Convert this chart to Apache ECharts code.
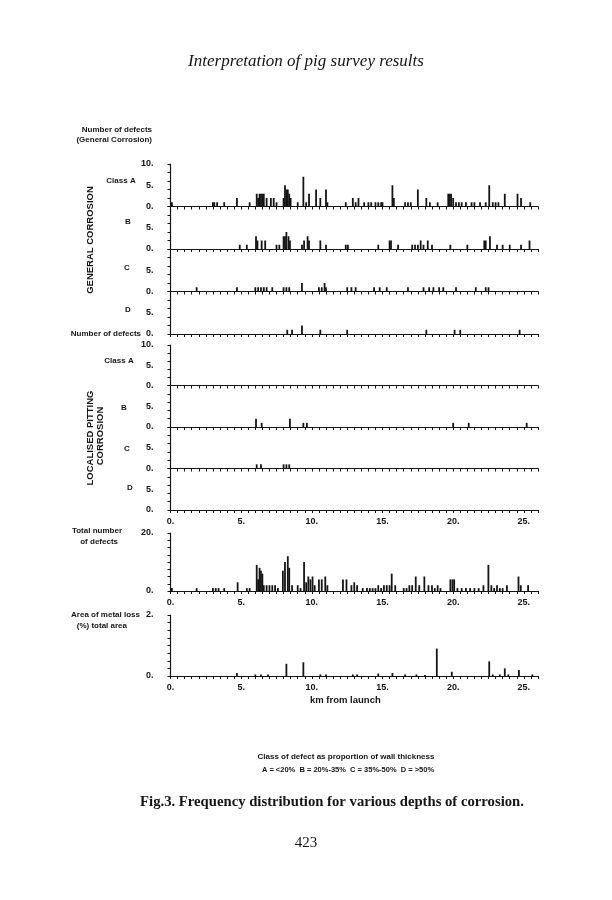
<!DOCTYPE html>
<html><head><meta charset="utf-8">
<script src="https://cdn.jsdelivr.net/npm/echarts@6/dist/echarts.min.js"></script>
<style>html,body{margin:0;padding:0;background:#fff}#c{width:612px;height:900px}</style>
</head><body><div id="c"></div><script>
// ---- data (km from launch, value) ----
const kmTickLabels = [0, 5, 10, 15, 20, 25];
const genA = [[0.1,1],[3.0,1],[3.1,1],[3.3,1],[3.8,1],[4.7,2],[5.6,1],[6.1,3],[6.2,2],[6.3,3],[6.4,3],[6.5,3],[6.6,3],[6.8,2],[7.1,2],[7.3,2],[7.5,1],[8.0,2],[8.1,5],[8.2,4],[8.3,4],[8.4,3],[8.5,2],[9.0,1],[9.4,7],[9.6,1],[9.8,3],[10.3,4],[10.6,2],[11.0,4],[11.1,1],[12.4,1],[12.9,2],[13.1,1],[13.3,2],[13.7,1],[14.0,1],[14.2,1],[14.5,1],[14.7,1],[14.9,1],[15.0,1],[15.7,5],[15.8,2],[16.6,1],[16.8,1],[17.0,1],[17.5,4],[18.1,2],[18.35,1],[18.9,1],[19.65,3],[19.75,3],[19.85,3],[20.0,2],[20.2,1],[20.4,1],[20.6,1],[20.9,1],[21.3,1],[21.5,1],[21.9,1],[22.3,1],[22.55,5],[22.8,1],[23.0,1],[23.2,1],[23.65,3],[24.55,3],[24.8,2],[25.45,1]];
const genB = [[4.9,1],[5.4,1],[6.05,3],[6.15,2],[6.45,2],[6.7,2],[7.5,1],[7.7,1],[8.0,3],[8.1,3],[8.2,4],[8.35,3],[8.45,2],[9.3,1],[9.45,2],[9.7,3],[9.8,2],[10.6,2],[11.0,1],[12.4,1],[12.55,1],[14.7,1],[15.5,2],[15.6,2],[16.1,1],[17.1,1],[17.3,1],[17.5,1],[17.7,2],[17.9,1],[18.2,2],[18.5,1],[19.8,1],[21.0,1],[22.2,2],[22.3,2],[22.6,3],[23.1,1],[23.5,1],[24.0,1],[24.8,1],[25.4,2]];
const genC = [[1.85,1],[4.7,1],[6.0,1],[6.2,1],[6.4,1],[6.6,1],[6.8,1],[7.2,1],[8.0,1],[8.2,1],[8.4,1],[9.3,2],[10.5,1],[10.7,1],[10.9,2],[11.0,1],[12.5,1],[12.8,1],[13.1,1],[14.4,1],[14.8,1],[15.3,1],[16.8,1],[17.9,1],[18.3,1],[18.6,1],[19.0,1],[19.3,1],[20.2,1],[21.6,1],[22.3,1],[22.5,1]];
const genD = [[8.26,1],[8.6,1],[9.3,2],[10.6,1],[12.5,1],[18.1,1],[20.1,1],[20.5,1],[24.7,1]];
const pitA = [];
const pitB = [[6.05,2],[6.45,1],[8.45,2],[9.4,1],[9.65,1],[20.0,1],[21.1,1],[25.2,1]];
const pitC = [[6.1,1],[6.4,1],[8.0,1],[8.2,1],[8.4,1]];
const pitD = [];
const totalDefects = [[0.1,1],[1.85,1],[3.0,1],[3.2,1],[3.4,1],[3.8,1],[4.75,3],[5.4,1],[5.6,1],[6.1,9],[6.2,4],[6.3,8],[6.4,7],[6.5,6],[6.6,2],[6.8,2],[7.0,2],[7.2,2],[7.4,2],[7.6,1],[7.95,7],[8.1,10],[8.3,12],[8.4,8],[8.6,2],[9.0,2],[9.2,1],[9.45,10],[9.6,3],[9.75,5],[9.9,4],[10.05,5],[10.2,2],[10.5,4],[10.7,4],[10.95,5],[11.1,2],[12.2,4],[12.45,4],[12.8,2],[13.0,3],[13.2,2],[13.6,1],[13.9,1],[14.1,1],[14.3,1],[14.5,1],[14.7,2],[14.9,1],[15.1,2],[15.3,2],[15.5,2],[15.65,6],[15.9,2],[16.5,1],[16.7,1],[16.9,2],[17.1,2],[17.35,5],[17.6,2],[17.96,5],[18.25,2],[18.5,2],[18.7,1],[18.9,2],[19.1,1],[19.8,4],[19.95,4],[20.07,4],[20.3,1],[20.6,1],[20.9,1],[21.2,1],[21.5,1],[21.8,1],[22.14,2],[22.49,9],[22.7,2],[22.9,1],[23.1,2],[23.3,1],[23.5,1],[23.8,2],[24.62,5],[24.78,2],[25.3,2]];
const metalLossPct = [[4.7,0.1],[6.0,0.05],[6.4,0.05],[6.9,0.05],[8.2,0.4],[9.4,0.45],[10.6,0.05],[11.0,0.05],[12.9,0.05],[13.2,0.05],[14.7,0.08],[15.7,0.1],[16.6,0.05],[17.4,0.05],[18.0,0.03],[18.84,0.9],[19.9,0.14],[22.55,0.48],[22.8,0.05],[23.3,0.05],[23.65,0.25],[23.9,0.05],[24.65,0.2],[25.6,0.05]];

// ---- layout ----
const LEFT = 170.5, RIGHT = 538;
const panels = [
  {data: genA, top: 164,   bot: 206.5, max: 10, tick: 2,    lab: 5,  showTop: true},
  {data: genB, top: 206.5, bot: 249,   max: 10, tick: 2,    lab: 5},
  {data: genC, top: 249,   bot: 291.5, max: 10, tick: 2,    lab: 5},
  {data: genD, top: 291.5, bot: 334,   max: 10, tick: 2,    lab: 5},
  {data: pitA, top: 345,   bot: 385.5, max: 10, tick: 2,    lab: 5,  showTop: true},
  {data: pitB, top: 385.5, bot: 427,   max: 10, tick: 2,    lab: 5},
  {data: pitC, top: 427,   bot: 468.5, max: 10, tick: 2,    lab: 5},
  {data: pitD, top: 468.5, bot: 510,   max: 10, tick: 2,    lab: 5,  xlab: true},
  {data: totalDefects, top: 533, bot: 591, max: 20, tick: 2.5, lab: 20, showTop: true, xlab: true},
  {data: metalLossPct, top: 615, bot: 676, max: 2, tick: 0.25, lab: 2, showTop: true, xlab: true}
];
const INK = '#151515';
const LBL = 'bold 8px "Liberation Sans", sans-serif';
const grid = [], xAxis = [], yAxis = [], series = [];
panels.forEach((p, i) => {
  grid.push({left: LEFT, width: RIGHT - LEFT, top: p.top, height: p.bot - p.top});
  xAxis.push({type: 'value', gridIndex: i, min: 0, max: 26, interval: 0.5, position: 'bottom',
    axisLine: {lineStyle: {color: INK, width: 1.2}},
    axisTick: {show: true, length: 3, lineStyle: {color: INK, width: 1}},
    splitLine: {show: false},
    axisLabel: {show: !!p.xlab, margin: 7, color: INK, fontFamily: 'Liberation Sans', fontWeight: 'bold', fontSize: 9,
      formatter: v => (kmTickLabels.indexOf(v) >= 0 ? v + '.' : '')}});
  yAxis.push({type: 'value', gridIndex: i, min: 0, max: p.max, interval: p.tick, position: 'left',
    axisLine: {show: true, lineStyle: {color: INK, width: 1.2}},
    axisTick: {show: true, length: 3, lineStyle: {color: INK}},
    splitLine: {show: false}, axisLabel: {show: false}});
  yAxis.push({type: 'value', gridIndex: i, min: 0, max: p.max, interval: p.lab, position: 'left', offset: 0,
    axisLine: {show: false}, axisTick: {show: false}, splitLine: {show: false},
    axisLabel: {margin: 17, color: INK, fontFamily: 'Liberation Sans', fontWeight: 'bold', fontSize: 9,
      formatter: v => (v === 0 || v === 5 || (p.showTop && v === p.max)) ? v + '.' : ''}});
  series.push({type: 'bar', xAxisIndex: i, yAxisIndex: 2 * i, data: p.data, barWidth: 1.8,
    itemStyle: {color: INK}, silent: true, animation: false});
});

const txt = (text, x, y, font, align, extra) => Object.assign({type: 'text', x: x, y: y, silent: true,
  style: {text: text, font: font, fill: INK, textAlign: align || 'left', textVerticalAlign: 'middle'}}, extra || {});
const VFONT = 'bold 9.5px "Liberation Sans", sans-serif';
const graphic = [
  txt('Interpretation of pig survey results', 306, 62, 'italic 17px "Liberation Serif", serif', 'center'),
  txt('Number of defects', 152, 130, LBL, 'right'),
  txt('(General Corrosion)', 152, 140, LBL, 'right'),
  txt('Class A', 121, 181, LBL, 'center'),
  txt('B', 128, 222, LBL, 'center'),
  txt('C', 127, 268, LBL, 'center'),
  txt('D', 128, 310, LBL, 'center'),
  txt('Number of defects', 141, 334, LBL, 'right'),
  txt('Class A', 119, 361, LBL, 'center'),
  txt('B', 124, 408, LBL, 'center'),
  txt('C', 127, 449, LBL, 'center'),
  txt('D', 130, 488, LBL, 'center'),
  txt('Total number', 122, 531, LBL, 'right'),
  txt('of defects', 118, 542, LBL, 'right'),
  txt('Area of metal loss', 140, 615, LBL, 'right'),
  txt('(%) total area', 127, 626, LBL, 'right'),
  txt('km from launch', 310, 700, 'bold 9.5px "Liberation Sans", sans-serif', 'left'),
  txt('GENERAL CORROSION', 90, 240, VFONT, 'center', {rotation: Math.PI / 2}),
  txt('LOCALISED PITTING', 90, 438, VFONT, 'center', {rotation: Math.PI / 2}),
  txt('CORROSION', 100.5, 436, VFONT, 'center', {rotation: Math.PI / 2}),
  txt('Class of defect as proportion of wall thickness', 346, 757, 'bold 8px "Liberation Sans", sans-serif', 'center'),
  txt('A = <20%  B = 20%-35%  C = 35%-50%  D = >50%', 348, 770, 'bold 7.5px "Liberation Sans", sans-serif', 'center'),
  txt('Fig.3. Frequency distribution for various depths of corrosion.', 332, 802, 'bold 14.7px "Liberation Serif", serif', 'center'),
  txt('423', 306, 843, '15px "Liberation Serif", serif', 'center')
];

const chart = echarts.init(document.getElementById('c'), null, {renderer: 'canvas'});
chart.setOption({animation: false, backgroundColor: '#fff', grid, xAxis, yAxis, series, graphic});
</script></body></html>
